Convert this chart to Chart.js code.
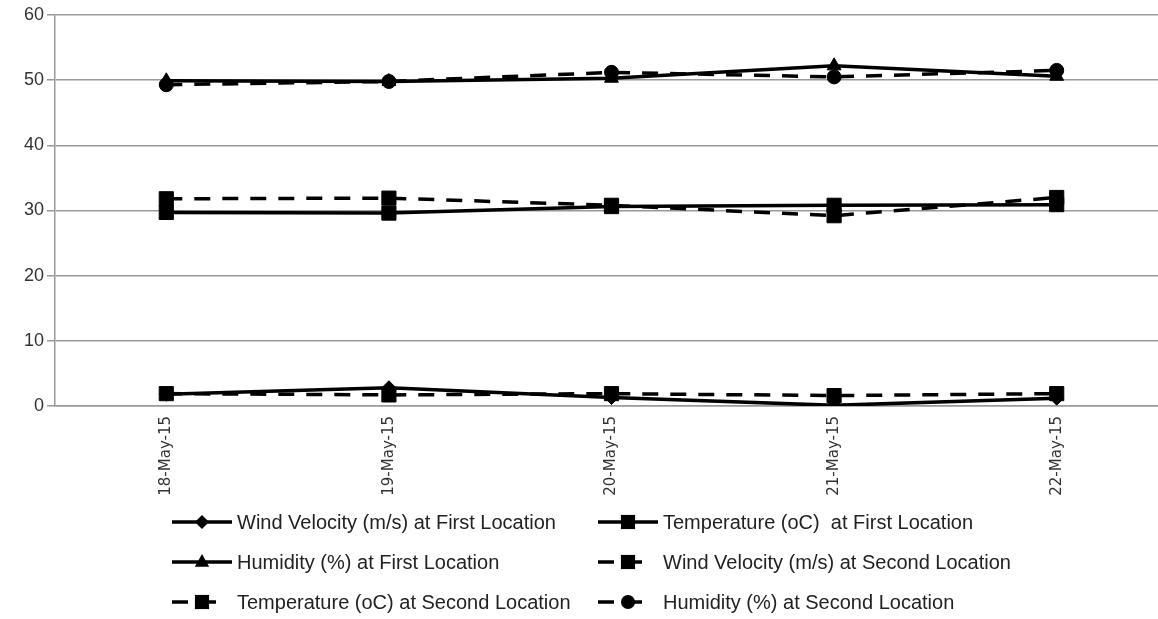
<!DOCTYPE html>
<html>
<head>
<meta charset="utf-8">
<script src="https://cdn.jsdelivr.net/npm/chart.js@4/dist/chart.umd.min.js"></script>
<style>
  body { margin: 0; background: #fff; overflow: hidden; }
  #wrap { width: 1158px; height: 619px; overflow: hidden; }
</style>
</head>
<body>
<div id="wrap"><canvas id="myChart" width="1179" height="619"></canvas></div>
<script>
// dates on the x axis
const dates = ['18-May-15', '19-May-15', '20-May-15', '21-May-15', '22-May-15'];

// first location
const windFirst = [1.8, 2.8, 1.3, 0.1, 1.2];
const tempFirst = [29.7, 29.6, 30.6, 30.8, 30.9];
const humFirst = [49.9, 49.8, 50.3, 52.2, 50.6];

// second location
const windSecond = [1.9, 1.7, 1.9, 1.6, 1.9];
const tempSecond = [31.8, 31.9, 30.8, 29.2, 32.0];
const humSecond = [49.3, 49.8, 51.2, 50.5, 51.5];

const yTicks = [0, 10, 20, 30, 40, 50, 60];

const dash = [16, 12];

function series(label, values, pointStyle, radius, dashed) {
    return {
        label: label,
        data: values,
        borderColor: '#000',
        backgroundColor: '#000',
        borderWidth: 3.5,
        borderDash: dashed ? dash : [],
        pointStyle: pointStyle,
        pointRadius: radius,
        pointHoverRadius: radius,
        pointBorderWidth: 1,
        tension: 0
    };
}

const data = {
    labels: dates,
    datasets: [
        series('Wind Velocity (m/s) at First Location', windFirst, 'rectRot', 7, false),
        series('Temperature (oC)  at First Location', tempFirst, 'rect', 10, false),
        series('Humidity (%) at First Location', humFirst, 'triangle', 8, false),
        series('Wind Velocity (m/s) at Second Location', windSecond, 'rect', 10, true),
        series('Temperature (oC) at Second Location', tempSecond, 'rect', 10, true),
        series('Humidity (%) at Second Location', humSecond, 'circle', 7, true)
    ]
};

function drawMarker(ctx, style, r, x, y) {
    ctx.beginPath();
    if (style === 'rect') {
        const s = r * Math.SQRT1_2;
        ctx.rect(x - s, y - s, 2 * s, 2 * s);
    } else if (style === 'rectRot') {
        ctx.moveTo(x, y - r);
        ctx.lineTo(x + r, y);
        ctx.lineTo(x, y + r);
        ctx.lineTo(x - r, y);
        ctx.closePath();
    } else if (style === 'triangle') {
        ctx.moveTo(x, y - r);
        ctx.lineTo(x + r * 0.9, y + r * 0.6);
        ctx.lineTo(x - r * 0.9, y + r * 0.6);
        ctx.closePath();
    } else {
        ctx.arc(x, y, r, 0, Math.PI * 2);
    }
    ctx.fill();
}

// two column legend under the axis
const gridLegend = {
    id: 'gridLegend',
    afterDraw(chart) {
        const ctx = chart.ctx;
        const colX = [172, 598];
        const rowY = [522, 562, 602];
        ctx.save();
        chart.data.datasets.forEach((ds, i) => {
            const x = colX[i % 2];
            const y = rowY[Math.floor(i / 2)];
            const dashed = ds.borderDash.length > 0;
            ctx.strokeStyle = '#000';
            ctx.fillStyle = '#000';
            ctx.lineWidth = 3.5;
            ctx.setLineDash(ds.borderDash);
            ctx.beginPath();
            ctx.moveTo(x, y);
            ctx.lineTo(x + (dashed ? 54 : 60), y);
            ctx.stroke();
            ctx.setLineDash([]);
            drawMarker(ctx, ds.pointStyle, ds.pointRadius, x + 30, y);
            ctx.font = '20px "Liberation Sans", Arial, sans-serif';
            ctx.fillStyle = '#222';
            ctx.textAlign = 'left';
            ctx.textBaseline = 'middle';
            ctx.fillText(ds.label, x + 65, y + 1);
        });
        ctx.restore();
    }
};

const options = {
    responsive: false,
    animation: false,
    layout: { padding: { top: 15, right: 0, bottom: 0, left: 0 } },
    plugins: {
        legend: { display: false },
        tooltip: { enabled: false }
    },
    scales: {
        x: {
            offset: true,
            afterFit(scale) { scale.height = 213; },
            grid: { display: false },
            border: { display: true, color: '#999', width: 1.5 },
            ticks: {
                minRotation: 90,
                maxRotation: 90,
                padding: 2,
                color: '#333',
                font: { family: '"DejaVu Sans", Verdana, sans-serif', size: 15 }
            }
        },
        y: {
            min: 0,
            max: 60,
            afterFit(scale) { scale.width = 55; },
            afterBuildTicks(scale) { scale.ticks = yTicks.map(v => ({ value: v })); },
            grid: { color: '#999', lineWidth: 1.5, tickLength: 8 },
            border: { display: true, color: '#999', width: 1.5 },
            ticks: {
                padding: 3,
                color: '#333',
                font: { family: '"Liberation Sans", Arial, sans-serif', size: 18 }
            }
        }
    }
};

new Chart(document.getElementById('myChart'), {
    type: 'line',
    data: data,
    options: options,
    plugins: [gridLegend]
});
</script>
</body>
</html>
